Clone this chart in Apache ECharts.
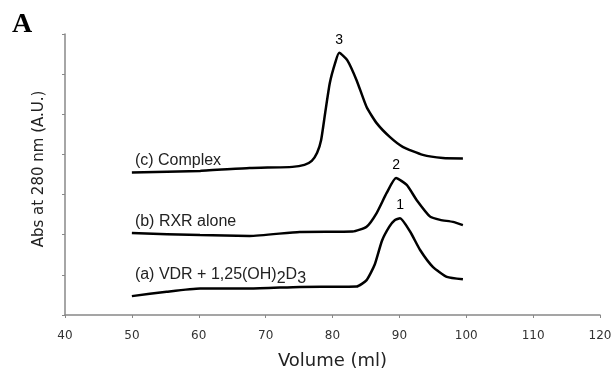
<!DOCTYPE html>
<html>
<head>
<meta charset="utf-8">
<script src="https://cdn.jsdelivr.net/npm/echarts@6/dist/echarts.min.js"></script>
<style>
  html, body { margin: 0; padding: 0; background: #fff; }
  #chart { width: 613px; height: 369px; }
</style>
</head>
<body>
<div id="chart"></div>
<script>
// x ticks (ml)
const xTicks = [40, 50, 60, 70, 80, 90, 100, 110, 120]

// (a) VDR + 1,25(OH)2D3
const volA = [50, 55.2, 60.2, 67.6, 75.1, 83.6, 85.1, 86.3, 87.4, 88.5, 89.3, 90.1, 91.6, 93.1, 95.0, 97.1, 99.5]
const absA = [0.47, 0.58, 0.66, 0.66, 0.70, 0.71, 0.87, 1.25, 1.85, 2.20, 2.36, 2.41, 2.08, 1.62, 1.20, 0.95, 0.89]

// (b) RXR alone
const volB = [50, 60.2, 67.6, 75.1, 83.0, 85.1, 86.6, 88.1, 89.5, 91.1, 92.6, 94.6, 96.1, 98.0, 99.5]
const absB = [2.04, 1.99, 1.97, 2.07, 2.08, 2.20, 2.54, 3.04, 3.41, 3.24, 2.86, 2.45, 2.37, 2.32, 2.24]

// (c) Complex
const volC = [50, 60.2, 67.6, 74.0, 75.8, 76.9, 77.7, 78.3, 78.9, 79.6, 80.4, 81.0, 82.2, 83.6, 85.1, 86.6, 88.6, 90.5, 93.5, 96.5, 99.5]
const absC = [3.55, 3.59, 3.66, 3.69, 3.74, 3.84, 4.04, 4.36, 5.03, 5.78, 6.28, 6.53, 6.35, 5.85, 5.18, 4.78, 4.43, 4.19, 3.99, 3.91, 3.90]

// peak numbers and curve names
const peakNames = ['1', '2', '3']
const peakVol = [90.1, 89.5, 81.0]
const curveNames = ['(a) VDR + 1,25(OH){s|2}D{s|3}', '(b) RXR alone', '(c) Complex']
const nameLift = [-22, -12, -12]

const pairs = (xs, ys) => xs.map((x, i) => [x, ys[i]])

const lineSeries = (xs, ys, idx) => {
    const pk = peakVol[idx]
    const pkY = ys[xs.indexOf(pk)]
    return {
        type: 'line',
        data: pairs(xs, ys),
        smooth: 0.18,
        showSymbol: false,
        lineStyle: { color: '#000', width: 2.5 },
        z: 3,
        markPoint: {
            symbol: 'circle',
            symbolSize: 0,
            silent: true,
            data: [
                {
                    coord: [pk, pkY],
                    label: {
                        show: true, position: 'top', distance: 6,
                        formatter: peakNames[idx],
                        color: '#000', fontSize: 14, fontFamily: 'Liberation Sans'
                    }
                },
                {
                    coord: [xs[0], ys[0]],
                    label: {
                        show: true, position: 'right',
                        offset: [-2, nameLift[idx]],
                        formatter: curveNames[idx],
                        color: '#222', fontSize: 16, fontFamily: 'Liberation Sans',
                        rich: {
                            s: { fontSize: 16, fontFamily: 'Liberation Sans', color: '#222', padding: [8, 0, 0, 0] }
                        }
                    }
                }
            ]
        }
    }
}

const option = {
    backgroundColor: '#fff',
    animation: false,
    grid: { left: 65, right: 13, top: 34, bottom: 54, outerBoundsMode: 'none', containLabel: false },
    xAxis: {
        type: 'value',
        min: 40, max: 120, interval: 10,
        name: 'Volume (ml)',
        nameLocation: 'middle',
        nameGap: 37,
        nameTextStyle: { fontSize: 18, fontFamily: 'DejaVu Sans', color: '#222' },
        axisLine: { lineStyle: { color: '#888', width: 1.5 } },
        axisTick: { length: 3, lineStyle: { color: '#888' } },
        axisLabel: {
            fontSize: 12, fontFamily: 'DejaVu Sans', color: '#333', margin: 15,
            formatter: v => xTicks.includes(v) ? '' + v : ''
        },
        splitLine: { show: false }
    },
    yAxis: {
        type: 'value',
        min: 0, max: 7, interval: 1,
        axisLine: { show: true, lineStyle: { color: '#888', width: 1.5 } },
        axisTick: { show: true, length: 3, lineStyle: { color: '#888' } },
        axisLabel: { show: false },
        splitLine: { show: false }
    },
    graphic: [
        {
            type: 'text', left: 12, top: 11,
            style: { text: 'A', font: 'bold 28px "Liberation Serif"', fill: '#000' }
        },
        {
            type: 'text', x: 39, y: 169, rotation: Math.PI / 2,
            style: {
                text: 'Abs at 280 nm (A.U.)', font: '15px "DejaVu Sans"', fill: '#222',
                align: 'center', verticalAlign: 'middle'
            }
        }
    ],
    series: [
        lineSeries(volA, absA, 0),
        lineSeries(volB, absB, 1),
        lineSeries(volC, absC, 2)
    ]
}

const chart = echarts.init(document.getElementById('chart'))
chart.setOption(option)
</script>
</body>
</html>
